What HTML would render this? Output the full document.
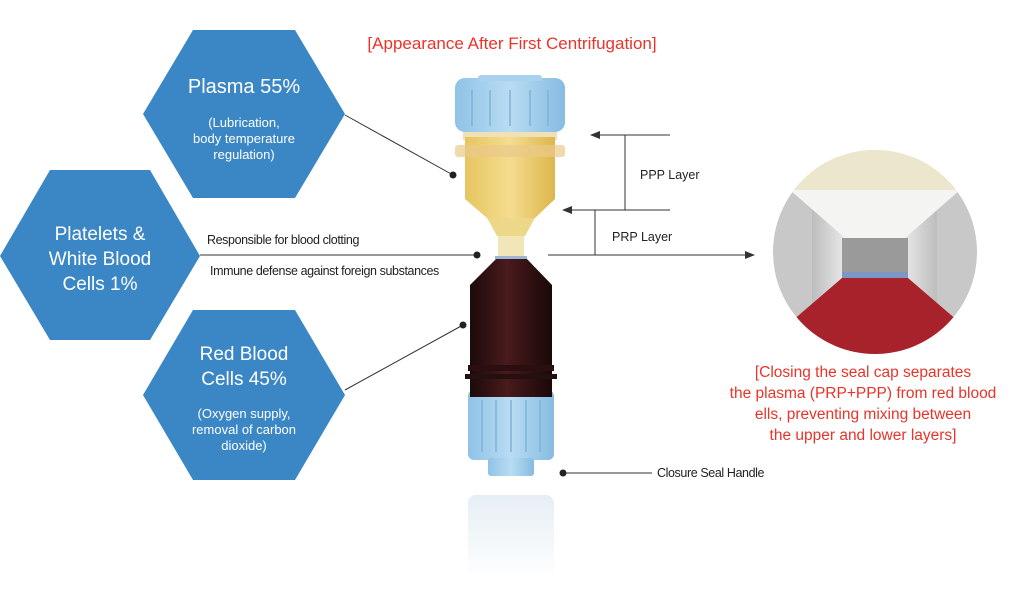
<!DOCTYPE html>
<html><head><style>
body{margin:0;width:1024px;height:590px;background:#fff;overflow:hidden;font-family:"Liberation Sans",sans-serif}
svg{position:absolute;left:0;top:0}
</style></head><body>
<svg width="1024" height="590" viewBox="0 0 1024 590" font-family="Liberation Sans, sans-serif">
<defs>
<linearGradient id="cap" x1="0" x2="1"><stop offset="0" stop-color="#8fc3e6"/><stop offset=".5" stop-color="#b9dcf3"/><stop offset="1" stop-color="#86bbe0"/></linearGradient>
<linearGradient id="pl" x1="0" x2="1"><stop offset="0" stop-color="#e6c560"/><stop offset=".5" stop-color="#f5dc8f"/><stop offset="1" stop-color="#ddb64c"/></linearGradient>
<linearGradient id="rb" x1="0" x2="1"><stop offset="0" stop-color="#1c0a0a"/><stop offset=".45" stop-color="#4a1a1c"/><stop offset="1" stop-color="#1a0808"/></linearGradient>
<linearGradient id="bk" x1="0" x2="1"><stop offset="0" stop-color="#bdbdbd"/><stop offset=".3" stop-color="#eee"/><stop offset=".7" stop-color="#eee"/><stop offset="1" stop-color="#bdbdbd"/></linearGradient>
<linearGradient id="rf" x1="0" y1="0" x2="0" y2="1"><stop offset="0" stop-color="#e6eef5"/><stop offset="1" stop-color="#fff"/></linearGradient>
<clipPath id="cc"><circle cx="875" cy="252" r="102"/></clipPath>
<marker id="ar" markerWidth="10" markerHeight="8" refX="9" refY="4" orient="auto"><path d="M0,0L10,4L0,8z" fill="#333"/></marker>
</defs>
<g fill="#3b87c6">
<polygon points="143,114 193,30 295,30 345,114 295,198 193,198"/>
<polygon points="0,256 50,170 150,170 200,256 150,340 50,340"/>
<polygon points="143,395 193,310 295,310 345,395 295,480 193,480"/>
</g>
<g fill="#fff" text-anchor="middle">
<text x="244" y="93" font-size="20">Plasma 55%</text>
<text x="244" y="127" font-size="13">(Lubrication,</text>
<text x="244" y="143" font-size="13">body temperature</text>
<text x="244" y="159" font-size="13">regulation)</text>
<text x="100" y="240" font-size="19">Platelets &amp;</text>
<text x="100" y="265" font-size="19">White Blood</text>
<text x="100" y="290" font-size="19">Cells 1%</text>
<text x="244" y="360" font-size="19">Red Blood</text>
<text x="244" y="385" font-size="19">Cells 45%</text>
<text x="244" y="418" font-size="13">(Oxygen supply,</text>
<text x="244" y="434" font-size="13">removal of carbon</text>
<text x="244" y="450" font-size="13">dioxide)</text>
</g>
<text x="512" y="49" font-size="17" fill="#e8342a" text-anchor="middle">[Appearance After First Centrifugation]</text>
<!-- tube -->
<rect x="468" y="495" width="86" height="85" rx="8" fill="url(#rf)"/>
<rect x="468" y="390" width="86" height="70" rx="6" fill="url(#cap)"/>
<g stroke="#7fb2d8" stroke-width="1.5"><line x1="482" y1="400" x2="482" y2="452"/><line x1="496" y1="400" x2="496" y2="452"/><line x1="511" y1="400" x2="511" y2="452"/><line x1="526" y1="400" x2="526" y2="452"/><line x1="540" y1="400" x2="540" y2="452"/></g>
<rect x="488" y="458" width="46" height="18" rx="3" fill="url(#cap)"/>
<rect x="470" y="292" width="82" height="105" fill="url(#rb)"/>
<polygon points="497,258 526,258 552,285 552,295 470,295 470,285" fill="url(#rb)"/>
<rect x="468" y="365" width="86" height="6" fill="#2a0e10"/>
<rect x="465" y="374" width="92" height="5" fill="#241010"/>
<rect x="463" y="132" width="94" height="8" fill="#f0e0b8"/>
<rect x="465" y="137" width="90" height="62" fill="url(#pl)"/>
<rect x="455" y="145" width="110" height="12" rx="3" fill="#e9c98a" opacity=".7"/>
<polygon points="465,199 555,199 535,218 487,218" fill="url(#pl)"/>
<polygon points="487,218 535,218 525,236 497,236" fill="#edd88a"/>
<rect x="498" y="236" width="26" height="22" fill="#f1e6b8"/>
<rect x="495" y="256" width="32" height="3" fill="#9cb6d6"/>
<rect x="455" y="78" width="110" height="54" rx="10" fill="url(#cap)"/>
<g stroke="#7fb2d8" stroke-width="1.5"><line x1="472" y1="90" x2="472" y2="126"/><line x1="490" y1="90" x2="490" y2="126"/><line x1="510" y1="90" x2="510" y2="126"/><line x1="530" y1="90" x2="530" y2="126"/><line x1="548" y1="90" x2="548" y2="126"/></g>
<rect x="478" y="75" width="64" height="6" rx="3" fill="#a9d2ef"/>
<!-- lines -->
<g stroke="#333" stroke-width="1" fill="none">
<line x1="345" y1="115" x2="453" y2="175"/>
<line x1="345" y1="390" x2="463" y2="325"/>
<line x1="200" y1="255" x2="477" y2="255"/>
<line x1="548" y1="255" x2="754" y2="255" marker-end="url(#ar)"/>
<line x1="670" y1="135" x2="591" y2="135" marker-end="url(#ar)"/>
<line x1="625" y1="135" x2="625" y2="210"/>
<line x1="670" y1="210" x2="563" y2="210" marker-end="url(#ar)"/>
<line x1="595" y1="210" x2="595" y2="255"/>
<line x1="563" y1="473" x2="652" y2="473"/>
</g>
<g fill="#222"><circle cx="453" cy="175" r="3.5"/><circle cx="463" cy="325" r="3.5"/><circle cx="477" cy="255" r="3.5"/><circle cx="563" cy="473" r="3.5"/></g>
<g font-size="12.5" fill="#222">
<text x="640" y="179">PPP Layer</text>
<text x="612" y="241">PRP Layer</text>
<text x="207" y="244" letter-spacing="-.4">Responsible for blood clotting</text>
<text x="210" y="275" letter-spacing="-.4">Immune defense against foreign substances</text>
<text x="657" y="477" letter-spacing="-.4">Closure Seal Handle</text>
</g>
<!-- circle -->
<g clip-path="url(#cc)">
<rect x="770" y="148" width="210" height="210" fill="#c8c8c8"/>
<rect x="812" y="148" width="125" height="210" fill="url(#bk)"/>
<rect x="770" y="148" width="210" height="42" fill="#ece6cc"/>
<polygon points="790,190 960,190 905,238 845,238" fill="#f4f4f2"/>
<rect x="842" y="238" width="66" height="36" fill="#9a9a9a"/>
<rect x="842" y="272" width="66" height="6" fill="#7d96c4"/>
<polygon points="842,278 908,278 980,340 980,360 770,360 770,340" fill="#a8222c"/>
</g>
<g font-size="15.5" fill="#e8342a" text-anchor="middle">
<text x="863" y="377">[Closing the seal cap separates</text>
<text x="863" y="398">the plasma  (PRP+PPP) from red blood</text>
<text x="863" y="419">ells, preventing mixing between</text>
<text x="863" y="440">the upper and lower layers]</text>
</g>
</svg>
</body></html>
